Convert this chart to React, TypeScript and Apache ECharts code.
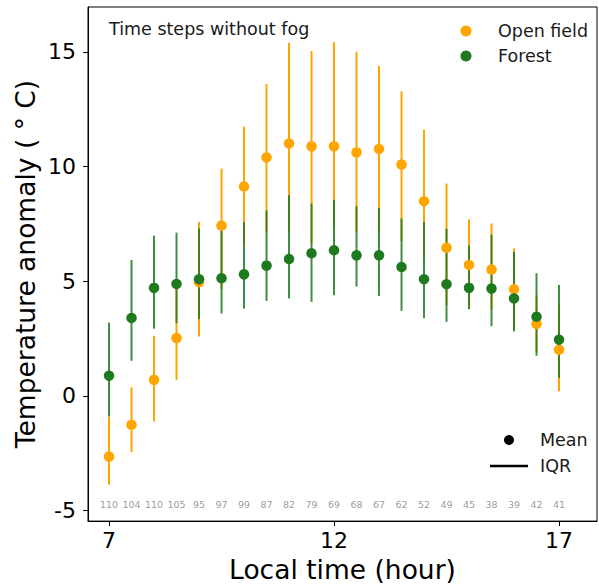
import React, { useEffect, useRef } from "react";
import * as echarts from "echarts";

const hours = [7, 7.5, 8, 8.5, 9, 9.5, 10, 10.5, 11, 11.5, 12, 12.5, 13, 13.5, 14, 14.5, 15, 15.5, 16, 16.5, 17];

const openMean = [-2.65, -1.26, 0.7, 2.52, 4.96, 7.43, 9.13, 10.4, 11.01, 10.88, 10.88, 10.62, 10.77, 10.09, 8.49, 6.46, 5.71, 5.51, 4.65, 3.14, 2.01];
const openQ1 = [-3.87, -2.45, -1.12, 0.7, 2.59, 4.65, 6.61, 7.12, 7.16, 6.68, 7.33, 7.16, 7.19, 6.75, 6.03, 3.96, 3.8, 3.78, 2.9, 1.9, 0.2];
const openQ3 = [-0.9, 0.38, 2.62, 4.87, 7.59, 9.91, 11.74, 13.6, 15.4, 15.04, 15.43, 15.01, 14.39, 13.28, 11.61, 9.26, 7.7, 7.52, 6.43, 4.4, 3.96];

const forestMean = [0.88, 3.4, 4.71, 4.88, 5.09, 5.13, 5.3, 5.68, 5.97, 6.22, 6.35, 6.13, 6.13, 5.62, 5.09, 4.87, 4.71, 4.68, 4.25, 3.45, 2.45];
const forestQ1 = [-0.9, 1.53, 2.93, 3.17, 3.35, 3.59, 3.81, 4.14, 4.25, 4.1, 4.39, 4.77, 4.36, 3.71, 3.39, 3.23, 3.78, 3.04, 2.81, 1.75, 0.78];
const forestQ3 = [3.2, 5.93, 6.99, 7.12, 7.3, 7.22, 7.58, 8.09, 8.75, 8.39, 8.55, 8.27, 8.2, 7.74, 7.58, 7.29, 6.57, 7.04, 6.28, 5.35, 4.84];

const counts = [110, 104, 110, 105, 95, 97, 99, 87, 82, 79, 69, 68, 67, 62, 52, 49, 45, 38, 39, 42, 41];

const xTicks = [7, 12, 17];
const yTicks = [-5, 0, 5, 10, 15];

const ORANGE = "#FFA500";
const GREEN = "#1f7a1f";
const FONT = "DejaVu Sans";

function barSeries(name: string, lo: number[], hi: number[], color: string, opacity: number) {
  return {
    type: "custom",
    name,
    data: hours.map((h, i) => [h, lo[i], hi[i]]),
    encode: { x: 0, y: [1, 2] },
    renderItem: (_params: any, api: any) => {
      const x = api.value(0);
      const p1 = api.coord([x, api.value(1)]);
      const p2 = api.coord([x, api.value(2)]);
      return {
        type: "line",
        shape: { x1: p1[0], y1: p1[1], x2: p2[0], y2: p2[1] },
        style: { stroke: color, lineWidth: 2, opacity },
      };
    },
  };
}

export default function App() {
  const ref = useRef<HTMLDivElement>(null);
  useEffect(() => {
    if (!ref.current) return;
    const chart = echarts.init(ref.current, undefined, { renderer: "svg" });
    const legendText = (text: string, x: number, y: number) => ({
      type: "text",
      x,
      y,
      style: { text, fontSize: 17.5, fill: "#1a1a1a", fontFamily: FONT, textVerticalAlign: "middle" },
    });
    chart.setOption({
      animation: false,
      textStyle: { fontFamily: FONT },
      grid: {
        left: 88,
        top: 7,
        right: 2,
        bottom: 66,
        show: true,
        borderColor: "#000",
        borderWidth: 1,
      },
      xAxis: {
        type: "value",
        min: 6.533,
        max: 17.844,
        name: "Local time (hour)",
        nameLocation: "middle",
        nameGap: 29,
        nameTextStyle: { fontSize: 26.5, color: "#000", fontFamily: FONT },
        axisLine: { show: true, onZero: false, lineStyle: { color: "#000", width: 1 } },
        axisTick: { show: true, length: 5, lineStyle: { color: "#000" }, customValues: xTicks },
        axisLabel: { fontSize: 22, color: "#000", margin: 8, customValues: xTicks, fontFamily: FONT },
        splitLine: { show: false },
      },
      yAxis: {
        type: "value",
        min: -5.46,
        max: 16.96,
        axisLine: { show: true, onZero: false, lineStyle: { color: "#000", width: 1 } },
        axisTick: { show: true, length: 5, lineStyle: { color: "#000" }, customValues: yTicks },
        axisLabel: { fontSize: 22, color: "#000", margin: 12, customValues: yTicks, fontFamily: FONT },
        splitLine: { show: false },
      },
      series: [
        barSeries("Open field IQR", openQ1, openQ3, ORANGE, 1),
        barSeries("Forest IQR", forestQ1, forestQ3, GREEN, 0.85),
        {
          type: "scatter",
          name: "Open field",
          data: hours.map((h, i) => [h, openMean[i]]),
          symbolSize: 10.5,
          itemStyle: { color: ORANGE, opacity: 1 },
        },
        {
          type: "scatter",
          name: "Forest",
          data: hours.map((h, i) => [h, forestMean[i]]),
          symbolSize: 10.5,
          itemStyle: { color: GREEN, opacity: 1 },
        },
        {
          type: "scatter",
          name: "counts",
          data: hours.map((h, i) => [h, -4.72, counts[i]]),
          symbolSize: 0,
          label: {
            show: true,
            position: "inside",
            formatter: (p: any) => String(p.data[2]),
            fontSize: 9.5,
            color: "#808080",
            fontFamily: FONT,
          },
        },
      ],
      graphic: [
        {
          type: "text",
          x: 109,
          y: 29,
          style: {
            text: "Time steps without fog",
            fontSize: 17.5,
            fill: "#1a1a1a",
            fontFamily: FONT,
            textVerticalAlign: "middle",
          },
        },
        { type: "circle", shape: { cx: 466, cy: 31, r: 5.5 }, style: { fill: ORANGE } },
        legendText("Open field", 498, 31),
        { type: "circle", shape: { cx: 466, cy: 56, r: 5.5 }, style: { fill: GREEN } },
        legendText("Forest", 498, 56),
        { type: "circle", shape: { cx: 509, cy: 440, r: 5 }, style: { fill: "#000" } },
        legendText("Mean", 540, 440),
        { type: "line", shape: { x1: 490, y1: 466, x2: 528, y2: 466 }, style: { stroke: "#000", lineWidth: 2.5 } },
        legendText("IQR", 540, 466),
        {
          type: "text",
          x: 25,
          y: 264,
          rotation: Math.PI / 2,
          style: {
            text: "Temperature anomaly ( ° C)",
            fontSize: 26.5,
            fill: "#000",
            fontFamily: FONT,
            textAlign: "center",
            textVerticalAlign: "middle",
          },
        },
      ],
    });
    return () => chart.dispose();
  }, []);
  return <div ref={ref} style={{ width: 599, height: 588, position: "absolute", left: 0, top: 0 }} />;
}
